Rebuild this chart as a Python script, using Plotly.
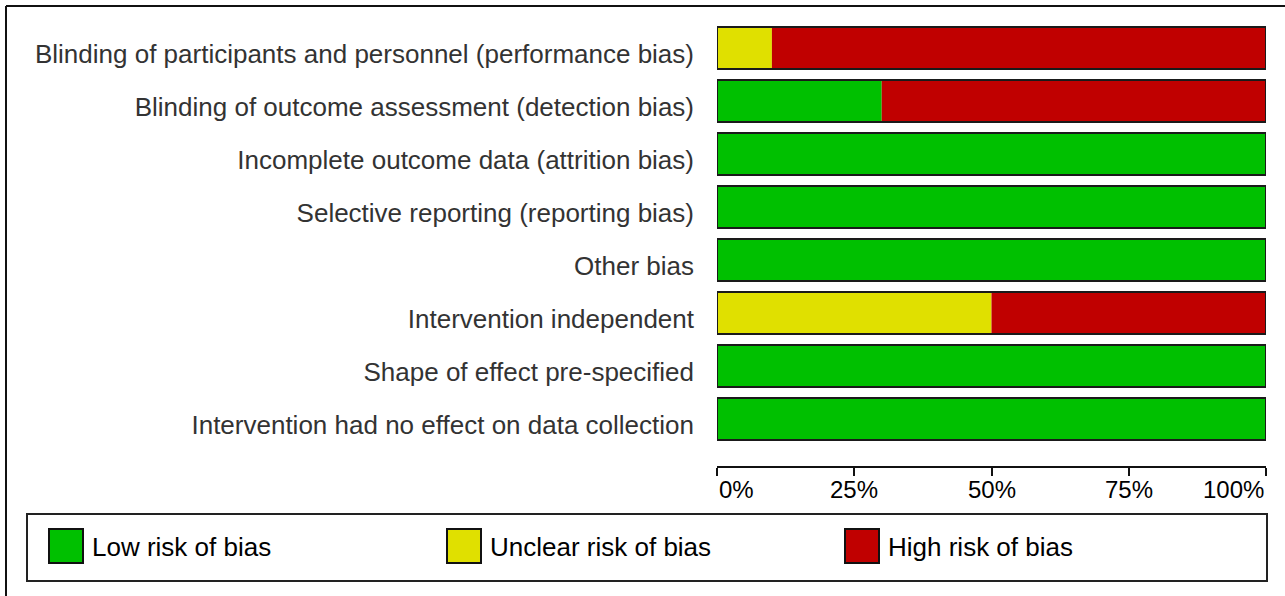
import plotly.graph_objects as go

# ---- data ----
categories = [
    "Blinding of participants and personnel (performance bias)",
    "Blinding of outcome assessment (detection bias)",
    "Incomplete outcome data (attrition bias)",
    "Selective reporting (reporting bias)",
    "Other bias",
    "Intervention independent",
    "Shape of effect pre-specified",
    "Intervention had no effect on data collection",
]
low_risk = [0, 30, 100, 100, 100, 0, 100, 100]
unclear_risk = [10, 0, 0, 0, 0, 50, 0, 0]
high_risk = [90, 70, 0, 0, 0, 50, 0, 0]
series_names = ["Low risk of bias", "Unclear risk of bias", "High risk of bias"]
series_colors = ["#00C000", "#E0E000", "#C00000"]
tick_values = [0, 25, 50, 75, 100]
tick_labels = ["0%", "25%", "50%", "75%", "100%"]

# ---- geometry (pixels) ----
W, H = 1285, 596
L, R = 717, 1266
T, B = 22, 466
PW, PH = R - L, B - T
ROW = 53.0
first_center = 48


def px(x):
    return (x - L) / PW


def py(y):
    return (B - y) / PH


idx = list(range(len(categories)))
series = [low_risk, unclear_risk, high_risk]

fig = go.Figure()
base = [0] * len(categories)
for name, vals, col in zip(series_names, series, series_colors):
    fig.add_trace(go.Bar(
        y=idx, x=vals, base=list(base), orientation="h", name=name,
        marker=dict(color=col, line=dict(width=0)), showlegend=False,
        hoverinfo="x+name",
    ))
    base = [b + v for b, v in zip(base, vals)]

# outline around each whole bar
fig.add_trace(go.Bar(
    y=idx, x=base, base=[0] * len(categories), orientation="h",
    marker=dict(color="rgba(0,0,0,0)", line=dict(color="#1a1a1a", width=2)),
    showlegend=False, hoverinfo="skip",
))

top_val = -(first_center - T) / ROW
bot_val = (B - first_center) / ROW

fig.update_layout(
    width=W, height=H,
    margin=dict(l=L, r=W - R, t=T, b=H - B, pad=0),
    barmode="overlay", bargap=1 - 42 / ROW,
    plot_bgcolor="white", paper_bgcolor="white",
    showlegend=False,
    font=dict(family="Liberation Sans", color="black"),
    xaxis=dict(range=[0, 100], showgrid=False, zeroline=False,
               showline=True, linecolor="#111", linewidth=2, mirror=False,
               ticks="outside", ticklen=8, tickwidth=2, tickcolor="#111",
               tickvals=tick_values, showticklabels=False, fixedrange=True),
    xaxis2=dict(range=[0, 100], overlaying="x", anchor="y", side="bottom",
                showgrid=False, zeroline=False, showline=False,
                ticks="inside", ticklen=8, tickwidth=2, tickcolor="#111",
                tickvals=tick_values, showticklabels=False),
    yaxis=dict(range=[bot_val, top_val], tickvals=idx, ticktext=categories,
               showgrid=False, zeroline=False, showline=False, ticks="",
               ticklabelstandoff=22, ticklabelshift=-6,
               tickfont=dict(family="Liberation Sans", size=26, color="#333333")),
)

# x tick labels
anchors = ["left", "center", "center", "center", "right"]
for v, t, a in zip(tick_values, tick_labels, anchors):
    fig.add_annotation(x=v, xref="x", y=py(490), yref="paper", text=t,
                       showarrow=False, xanchor=a, yanchor="middle",
                       font=dict(size=24, color="black", family="Liberation Sans"))

shapes = []
# outer frame (top and left edges visible)
shapes.append(dict(type="line", xref="paper", yref="paper",
                   x0=px(6), y0=py(6), x1=px(1300), y1=py(6),
                   line=dict(color="#111", width=2)))
shapes.append(dict(type="line", xref="paper", yref="paper",
                   x0=px(6), y0=py(6), x1=px(6), y1=py(620),
                   line=dict(color="#111", width=2)))
# legend box
shapes.append(dict(type="rect", xref="paper", yref="paper",
                   x0=px(27), y0=py(514), x1=px(1267), y1=py(581),
                   line=dict(color="#222", width=2), fillcolor="white"))
sw_x = [49, 447, 845]
for xs, name, col in zip(sw_x, series_names, series_colors):
    shapes.append(dict(type="rect", xref="paper", yref="paper",
                       x0=px(xs), y0=py(529), x1=px(xs + 34), y1=py(563),
                       line=dict(color="#111", width=2), fillcolor=col))
    fig.add_annotation(x=px(xs + 41), xref="paper", y=py(547), yref="paper",
                       text=name, showarrow=False, xanchor="left",
                       yanchor="middle",
                       font=dict(size=26, color="black", family="Liberation Sans"))
fig.update_layout(shapes=shapes)

fig.write_html("out.html", config={"displayModeBar": False},
               post_script="document.body.style.margin='0';document.body.style.overflow='hidden';")
